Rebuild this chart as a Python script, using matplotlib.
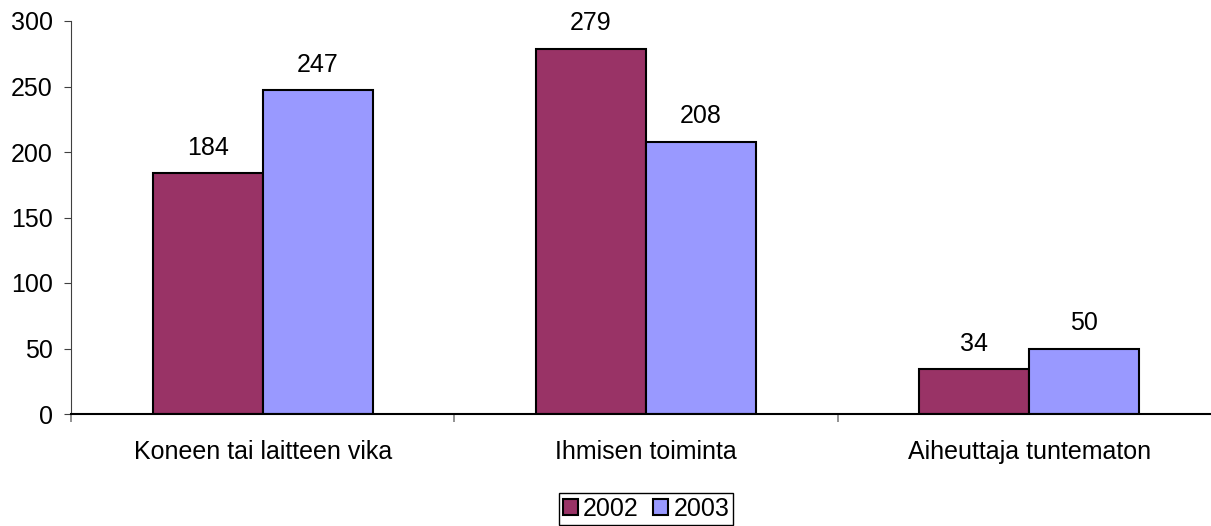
import matplotlib.pyplot as plt
import numpy as np

plt.rcParams['font.family'] = ['Liberation Sans', 'DejaVu Sans']

categories = ['Koneen tai laitteen vika', 'Ihmisen toiminta', 'Aiheuttaja tuntematon']
years = ['2002', '2003']
v2002 = [184, 279, 34]
v2003 = [247, 208, 50]
colors = ['#993366', '#9999FF']

fig = plt.figure(figsize=(12.11, 5.26), dpi=100)
ax = fig.add_axes([71 / 1211, 1 - 414 / 526, 1150 / 1211, 393 / 526])

x = np.arange(len(categories))
w = 0.287
for off, vals, c, lab in [(-w / 2, v2002, colors[0], years[0]), (w / 2, v2003, colors[1], years[1])]:
    bars = ax.bar(x + off, vals, width=w, color=c, edgecolor='black', linewidth=1.5, label=lab)
    for b, v in zip(bars, vals):
        ax.text(b.get_x() + b.get_width() / 2, v + 14, str(v), ha='center', va='baseline', fontsize=18)

ax.set_xlim(-0.5, len(categories) - 0.5)
ax.set_ylim(0, 300)
ax.set_yticks(np.arange(0, 301, 50))
ax.set_xticks(x)
ax.set_xticklabels(categories, fontsize=18)
ax.tick_params(axis='x', length=0, pad=19)
ax.set_xticks(np.arange(-0.5, len(categories)), minor=True)
ax.tick_params(axis='x', which='minor', length=6, color='#808080', width=1.2)
ax.tick_params(axis='y', labelsize=18, length=5, color='#404040', pad=8)

for s in ['top', 'right']:
    ax.spines[s].set_visible(False)
ax.spines['left'].set_color('#404040')
ax.spines['bottom'].set_linewidth(1.5)

ax.legend(loc='upper center', bbox_to_anchor=(0.5, -(493 - 414) / 393), ncol=2, fontsize=18,
          frameon=True, fancybox=False, edgecolor='black', framealpha=1,
          handlelength=0.6, handleheight=0.6, handletextpad=0.2, columnspacing=0.6,
          borderpad=0.15, borderaxespad=0)

fig.savefig('out.png', dpi=100)
